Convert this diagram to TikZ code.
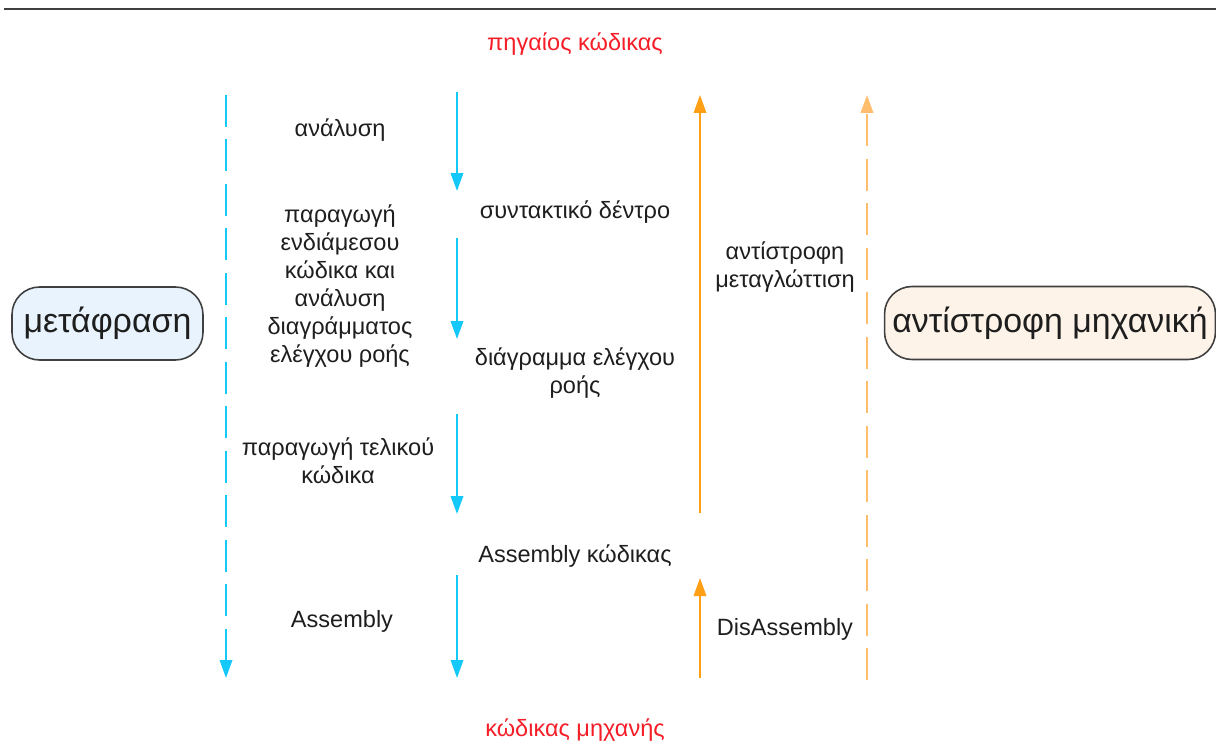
\documentclass[tikz,border=0pt]{standalone}
\usepackage{fontspec}
\setmainfont{Liberation Sans}
\usetikzlibrary{arrows.meta}
\definecolor{flowblue}{RGB}{20,200,250}
\definecolor{revorange}{RGB}{255,160,20}
\definecolor{revdash}{RGB}{255,190,110}
\definecolor{labelred}{RGB}{245,30,40}
\definecolor{txt}{RGB}{30,30,30}
\definecolor{bluefill}{RGB}{232,243,253}
\definecolor{orangefill}{RGB}{253,243,232}
\tikzset{
  px/.style={x=0.02cm,y=-0.02cm},
  lbl/.style={text=txt,font=\fontsize{13.4}{16}\selectfont,align=center,inner sep=0pt},
  endlbl/.style={text=labelred,font=\fontsize{13.4}{16}\selectfont,inner sep=0pt},
  bigbox/.style={draw=black!75,line width=0.9pt,rounded corners=0.55cm,text=txt,
    font=\fontsize{19.3}{22}\selectfont,inner sep=0pt,minimum height=1.46cm},
  tip/.style={-{Triangle[length=0.36cm,width=0.25cm]}},
  fwd/.style={tip,draw=flowblue,line width=1.1pt},
  fwddash/.style={tip,draw=flowblue,line width=1.1pt,dash pattern=on 0.64cm off 0.25cm},
  back/.style={tip,draw=revorange,line width=1.1pt},
  backdash/.style={tip,draw=revdash,line width=1.1pt,dash pattern=on 0.64cm off 0.25cm},
}
\begin{document}
\begin{tikzpicture}[px]
\useasboundingbox (0,0) rectangle (1216,746);
% header rule
\draw[black!75,line width=1.2pt] (4,9) -- (1216,9);

% end points of the chain
\node[endlbl] (src) at (575,44) {πηγαίος κώδικας};
\node[endlbl] (mach) at (575,730) {κώδικας μηχανής};

% intermediate representations
\node[lbl] (tree) at (575,212) {συντακτικό δέντρο};
\node[lbl] (cfg) at (575,373) {διάγραμμα ελέγχου\\ροής};
\node[lbl] (asm) at (575,556) {Assembly κώδικας};

% phase labels
\node[lbl] (p1) at (340,130) {ανάλυση};
\node[lbl] (p2) at (340,286) {παραγωγή\\ενδιάμεσου\\κώδικα και\\ανάλυση\\διαγράμματος\\ελέγχου ροής};
\node[lbl] (p3) at (338,461) {παραγωγή τελικού\\κώδικα};
\node[lbl] (p4) at (342,621) {Assembly};
\node[lbl] (r1) at (785,267) {αντίστροφη\\μεταγλώττιση};
\node[lbl] (r2) at (785,629) {DisAssembly};

% side boxes
\node[bigbox,fill=bluefill,minimum width=3.82cm] (trans) at (107.5,323.5) {μετάφραση};
\node[bigbox,fill=orangefill,minimum width=6.62cm] (reng) at (1050,323) {αντίστροφη μηχανική};

% arrow end points
\coordinate (ltop) at (226,95);   \coordinate (lbot) at (226,678);
\coordinate (a1s) at (457,92);    \coordinate (a1e) at (457,191);
\coordinate (a2s) at (457,238);   \coordinate (a2e) at (457,339);
\coordinate (a3s) at (457,414);   \coordinate (a3e) at (457,514);
\coordinate (a4s) at (457,575);   \coordinate (a4e) at (457,678);
\coordinate (b1s) at (700,513);   \coordinate (b1e) at (700,95);
\coordinate (b2s) at (700,678);   \coordinate (b2e) at (700,578);
\coordinate (rbot) at (867,680);  \coordinate (rtop) at (867,95);

% forward translation
\draw[fwddash] (ltop) -- (lbot);
\draw[fwd] (a1s) -- (a1e);
\draw[fwd] (a2s) -- (a2e);
\draw[fwd] (a3s) -- (a3e);
\draw[fwd] (a4s) -- (a4e);

% reverse engineering
\draw[back] (b1s) -- (b1e);
\draw[back] (b2s) -- (b2e);
\draw[backdash] (rbot) -- (rtop);
\end{tikzpicture}
\end{document}
